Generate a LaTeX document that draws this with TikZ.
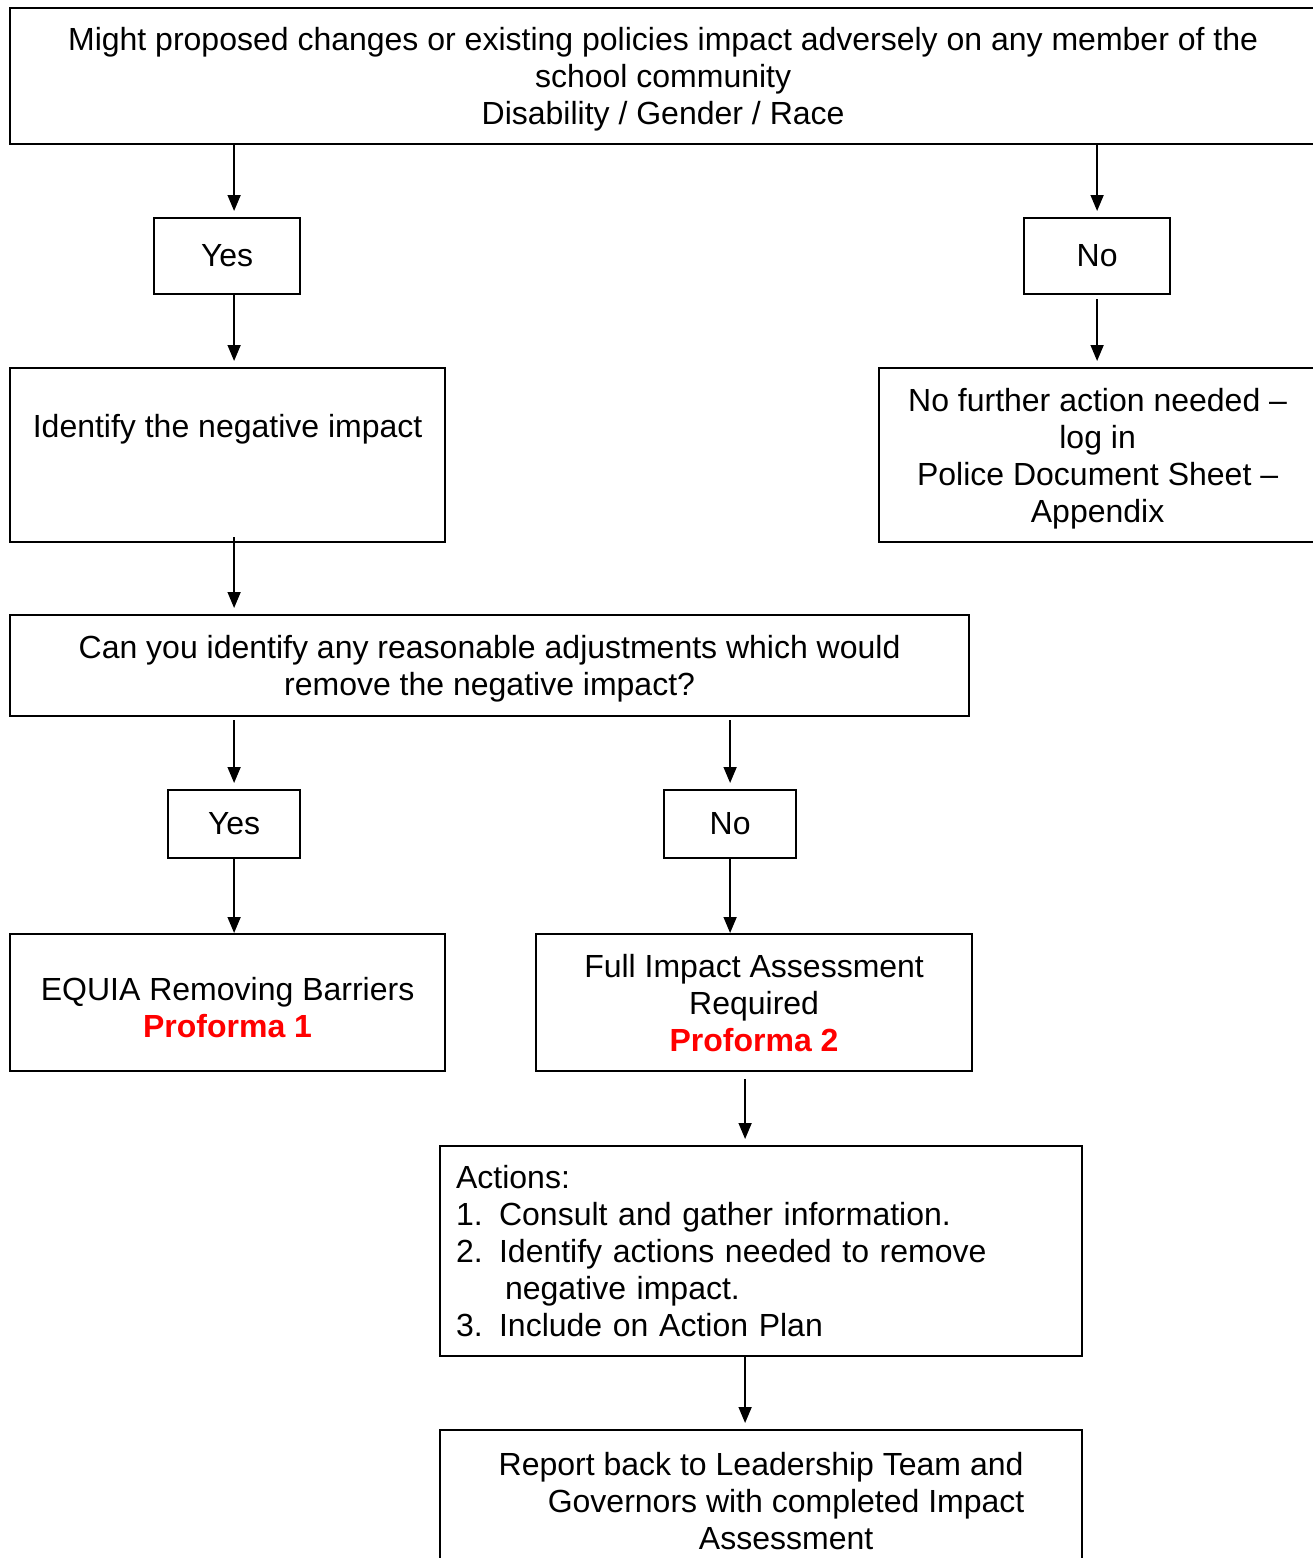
\documentclass[tikz,border=0pt]{standalone}
\usepackage{fontspec}
\setmainfont{Liberation Sans}
\usetikzlibrary{arrows.meta}

\begin{document}
\begin{tikzpicture}[x=1pt,y=-1pt,
  box/.style={draw,line width=2.2pt,rectangle,inner sep=0pt,anchor=north west,
    font=\fontsize{32}{37}\selectfont,align=center},
  arr/.style={-{Triangle[length=16pt,width=13pt]},line width=1.6pt,shorten >=6pt}]
\useasboundingbox (0,0) rectangle (1313,1558);
\fill[white] (0,0) rectangle (1313,1558);
% top question and first answers
\node[box,minimum width=1306pt,minimum height=136pt] (top) at (9,7)
  {\rule{0pt}{30pt}Might proposed changes or existing policies impact adversely on any member of the\\
   school community\\ Disability / Gender / Race};
\node[box,minimum width=146pt,minimum height=76pt] (yesA) at (153,217) {Yes};
\node[box,minimum width=146pt,minimum height=76pt] (noA) at (1023,217) {No};
\node[box,minimum width=435pt,minimum height=174pt] (ident) at (9,367)
  {Identify the negative impact\\[22pt]\mbox{}};
\node[box,minimum width=437pt,minimum height=174pt] (nofurther) at (878,367)
  {\rule{0pt}{30pt}No further action needed --\\ log in\\ Police Document Sheet --\\ Appendix};
% second question
\node[box,minimum width=959pt,minimum height=101pt] (adjust) at (9,614)
  {\rule{0pt}{30pt}Can you identify any reasonable adjustments which would\\ remove the negative impact?};
\node[box,minimum width=132pt,minimum height=68pt] (yesB) at (167,789) {Yes};
\node[box,minimum width=132pt,minimum height=68pt] (noB) at (663,789) {No};
\node[box,minimum width=435pt,minimum height=137pt] (equia) at (9,933)
  {\rule{0pt}{34pt}EQUIA Removing Barriers\\ \textcolor{red}{\bfseries Proforma 1}};
\node[box,minimum width=436pt,minimum height=137pt] (full) at (535,933)
  {Full Impact Assessment\\ Required\\ \textcolor{red}{\bfseries Proforma 2}};
% actions and report
\node[box,text width=610pt,inner xsep=16pt,minimum height=210pt,align=left] (actions) at (439,1145)
  {Actions:\\
   \makebox[43pt][l]{1.}Consult and gather information.\\
   \makebox[43pt][l]{2.}Identify actions needed to remove\\
   \hspace*{49pt}negative impact.\\
   \makebox[43pt][l]{3.}Include on Action Plan};
\node[box,minimum width=642pt,minimum height=142pt] (report) at (439,1429)
  {Report back to Leadership Team and\\
   \hspace*{50pt}Governors with completed Impact\\
   \hspace*{50pt}Assessment};
% connectors
\draw[arr] (top.south -| yesB) -- (yesA.north -| yesB);
\draw[arr] (top.south -| noA) -- (noA.north);
\draw[arr] (yesA.south -| yesB) -- (ident.north -| yesB);
\draw[arr,shorten <=4pt] (noA.south) -- (noA.south |- nofurther.north);
\draw[arr,shorten <=-6pt] (ident.south -| yesB) -- (adjust.north -| yesB);
\draw[arr,shorten <=3pt] (adjust.south -| yesB) -- (yesB.north);
\draw[arr,shorten <=3pt] (adjust.south -| noB) -- (noB.north);
\draw[arr,shorten >=0pt] (yesB.south) -- (yesB.south |- equia.north);
\draw[arr,shorten >=0pt] (noB.south) -- (noB.south |- full.north);
\draw[arr,shorten <=7pt] ([xshift=-9pt]full.south) -- ([xshift=-9pt]full.south |- actions.north);
\draw[arr] ([xshift=-16pt]actions.south) -- ([xshift=-16pt]actions.south |- report.north);
\end{tikzpicture}
\end{document}
